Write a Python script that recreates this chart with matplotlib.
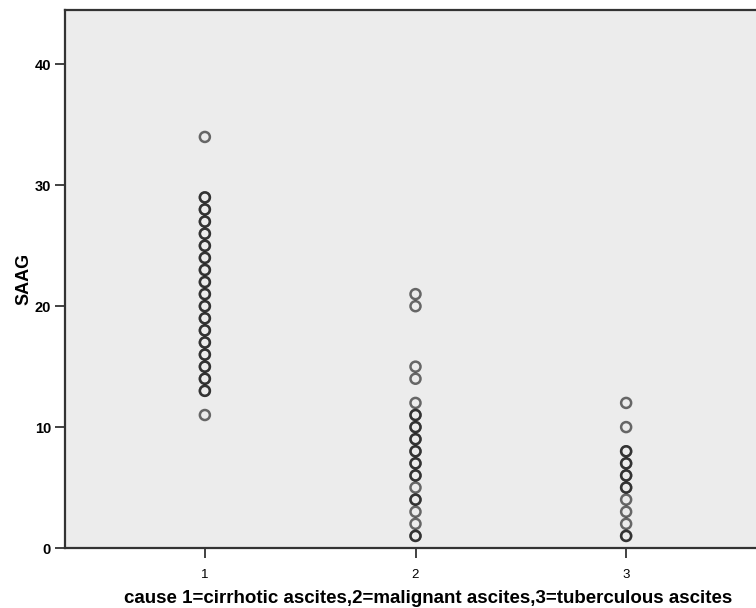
import matplotlib
matplotlib.use("Agg")
import matplotlib.pyplot as plt
from matplotlib import font_manager

# Data: SAAG values by cause (repeated values mark overlapping cases)
cause1 = [34, 29, 29, 28, 28, 27, 27, 26, 26, 25, 25, 24, 24, 23, 23, 22, 22, 21, 21,
          20, 20, 19, 19, 18, 18, 17, 17, 16, 16, 15, 15, 14, 14, 13, 13, 11]
cause2 = [21, 20, 15, 14, 12, 11, 11, 10, 10, 9, 9, 8, 8, 7, 7, 6, 6, 5, 4, 4, 3, 2, 1, 1]
cause3 = [12, 10, 8, 8, 7, 7, 6, 6, 5, 5, 4, 3, 2, 1, 1]
groups = [1, 2, 3]
ylabel = "SAAG"
xlabel = "cause 1=cirrhotic ascites,2=malignant ascites,3=tuberculous ascites"
yticks = [0, 10, 20, 30, 40]

names = {f.name for f in font_manager.fontManager.ttflist}
narrow = 'Liberation Sans Narrow' in names
plt.rcParams['font.family'] = ['Liberation Sans', 'DejaVu Sans']
label_family = ['Liberation Sans Narrow', 'Liberation Sans', 'DejaVu Sans'] if narrow else ['Liberation Sans', 'DejaVu Sans']

fig = plt.figure(figsize=(7.56, 6.08), dpi=100)
ax = fig.add_axes([65/756, 1 - 548/608, (766-65)/756, (548-10)/608])
ax.set_facecolor('#ececec')
fig.patch.set_facecolor('white')

for g, vals in zip(groups, [cause1, cause2, cause3]):
    ax.scatter([g]*len(vals), vals, s=52, facecolors='none',
               edgecolors=(0.08, 0.08, 0.08, 0.62), linewidths=1.8, zorder=3)

ax.set_xlim(0.336, 3.664)
ax.set_ylim(0, 44.5)
ax.set_xticks(groups)
ax.set_yticks(yticks)
ax.set_xticklabels([str(g) for g in groups], fontsize=9.5, family=label_family)
ax.set_yticklabels([str(t) for t in yticks], fontsize=10.5, fontweight='bold', family=label_family)
ax.tick_params(axis='both', direction='out', length=7, width=1.3, color='#333333')
ax.tick_params(axis='y', pad=3)
ax.tick_params(axis='x', pad=8)
for s in ax.spines.values():
    s.set_color('#333333')
    s.set_linewidth(1.6)

fs_x = 15 if narrow else 13.5
ax.set_ylabel(ylabel, fontsize=13, fontweight='bold', family=label_family)
ax.set_xlabel(xlabel, fontsize=fs_x, fontweight='bold', family=label_family)
ax.xaxis.set_label_coords((428-65)/(766-65), -0.078)
ax.yaxis.set_label_coords(-0.047, 0.5)

fig.savefig("out.png", dpi=100)
